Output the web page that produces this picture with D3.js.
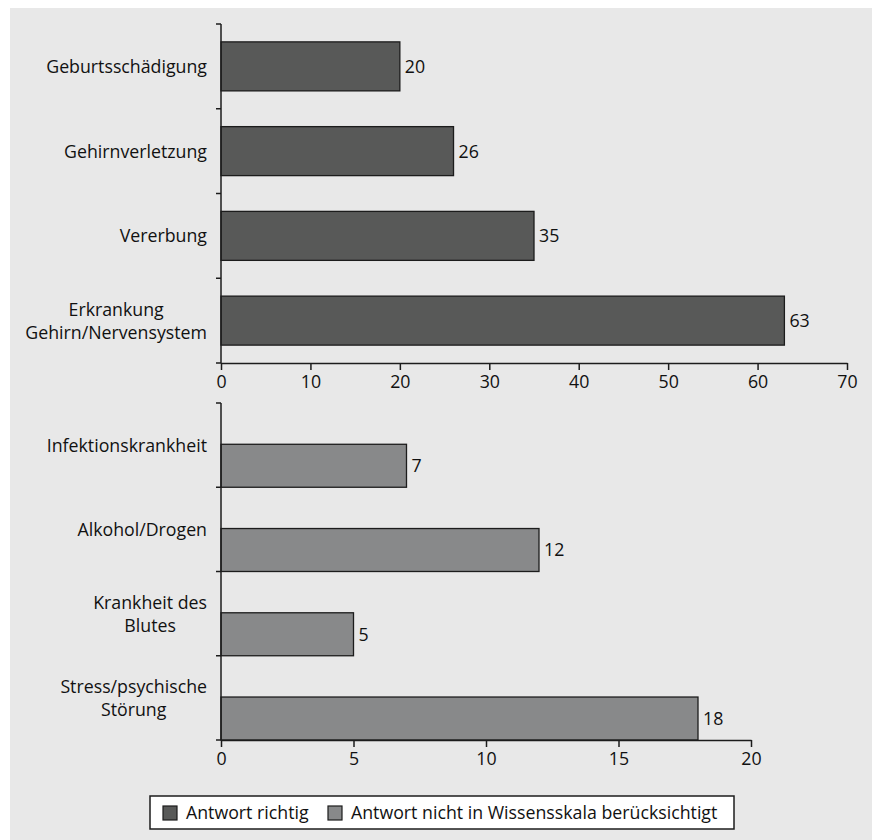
<!DOCTYPE html>
<html><head><meta charset="utf-8">
<script src="https://cdn.jsdelivr.net/npm/d3@7"></script>
<style>
html,body{margin:0;padding:0;background:#fff;}
svg{display:block;}
</style></head>
<body>
<svg id="chart" width="872" height="840"></svg>
<script>
// ---- data ----
const topCategories = [["Geburtsschädigung"], ["Gehirnverletzung"], ["Vererbung"], ["Erkrankung", "Gehirn/Nervensystem"]];
const topValues = [20, 26, 35, 63];
const topTicks = [0, 10, 20, 30, 40, 50, 60, 70];

const bottomCategories = [["Infektionskrankheit"], ["Alkohol/Drogen"], ["Krankheit des", "Blutes"], ["Stress/psychische", "Störung"]];
const bottomValues = [7, 12, 5, 18];
const bottomTicks = [0, 5, 10, 15, 20];

const legendLabels = ["Antwort richtig", "Antwort nicht in Wissensskala berücksichtigt"];
const colors = ["#585958", "#88898a"];

const svg = d3.select("#chart");
const FONT = "'Open Sans', 'Noto Sans', sans-serif";

// fit font size so that reference label widths match
const probe = svg.append("text").attr("font-family", FONT).attr("font-size", 20).text("GeburtsschädigungInfektionskrankheitGehirn/Nervensystem");
const w20 = probe.node().getComputedTextLength();
probe.remove();
const FS = 20 * 503 / w20;

svg.append("rect").attr("x", 10).attr("y", 8).attr("width", 862).attr("height", 832).attr("fill", "#e8e8e8");

function panel(cats, vals, ticks, xr, yr, color, barOffset, barH) {
  const idx = d3.range(cats.length);
  const x = d3.scaleLinear().domain([ticks[0], ticks[ticks.length - 1]]).range(xr);
  const y = d3.scaleBand().domain(idx).range(yr).padding(0);
  const step = y.step();
  const g = svg.append("g");

  // bars
  g.selectAll("rect.bar").data(idx).join("rect")
    .attr("x", x(0)).attr("y", i => y(i) + step * barOffset)
    .attr("width", i => x(vals[i]) - x(0)).attr("height", step * barH)
    .attr("fill", color).attr("stroke", "#1c1c1c").attr("stroke-width", 1.3);

  // value labels
  g.selectAll("text.val").data(idx).join("text")
    .attr("x", i => x(vals[i]) + 5)
    .attr("y", i => y(i) + step * (barOffset + barH / 2))
    .attr("dy", "0.36em")
    .attr("font-family", FONT).attr("font-size", FS).attr("fill", "#111")
    .text(i => vals[i]);

  // y axis
  const ax = "#1c1c1c";
  g.append("line").attr("x1", x(0)).attr("x2", x(0)).attr("y1", yr[0]).attr("y2", yr[1]).attr("stroke", ax).attr("stroke-width", 1.5);
  const bounds = d3.range(cats.length + 1).map(i => yr[0] + i * step);
  g.selectAll("line.yt").data(bounds).join("line")
    .attr("x1", x(0) - 5).attr("x2", x(0)).attr("y1", d => d).attr("y2", d => d)
    .attr("stroke", ax).attr("stroke-width", 1.5);

  // category labels (multi-line, centered block, right aligned)
  idx.forEach(i => {
    const lines = cats[i];
    const lh = 23;
    const cy = y(i) + step / 2;
    const t = g.append("text").attr("font-family", FONT).attr("font-size", FS).attr("fill", "#111");
    const spans = lines.map((l, k) => t.append("tspan").text(l));
    const widths = spans.map(s => s.node().getComputedTextLength());
    const maxW = d3.max(widths);
    const cx = x(0) - 14 - maxW / 2;
    spans.forEach((s, k) => {
      s.attr("x", cx).attr("text-anchor", "middle")
       .attr("y", cy + (k - (lines.length - 1) / 2) * lh).attr("dy", "0.36em");
    });
  });

  // x axis
  const xa = d3.axisBottom(x).tickValues(ticks).tickSize(7).tickPadding(5).tickSizeOuter(0);
  const xg = g.append("g").attr("transform", `translate(0,${yr[1]})`).call(xa);
  xg.select(".domain").attr("stroke", ax).attr("stroke-width", 1.5);
  xg.selectAll(".tick line").attr("stroke", ax).attr("stroke-width", 1.5);
  xg.selectAll(".tick text").attr("font-family", FONT).attr("font-size", FS).attr("fill", "#111");
}

panel(topCategories, topValues, topTicks, [221, 847], [24, 363], colors[0], 0.211, 0.578);
panel(bottomCategories, bottomValues, bottomTicks, [221, 751], [403, 740], colors[1], 0.49, 0.51);

// legend
const lg = svg.append("g");
lg.append("rect").attr("x", 150).attr("y", 796).attr("width", 584).attr("height", 33)
  .attr("fill", "#fff").attr("stroke", "#1c1c1c").attr("stroke-width", 1.5);
const legX = [163, 328];
const textX = [186, 351];
legendLabels.forEach((l, i) => {
  lg.append("rect").attr("x", legX[i]).attr("y", 806).attr("width", 14).attr("height", 14)
    .attr("fill", colors[i]).attr("stroke", "#1c1c1c").attr("stroke-width", 1.2);
  lg.append("text").attr("x", textX[i]).attr("y", 813).attr("dy", "0.36em")
    .attr("font-family", FONT).attr("font-size", FS).attr("fill", "#111").text(l);
});
</script>
</body></html>
